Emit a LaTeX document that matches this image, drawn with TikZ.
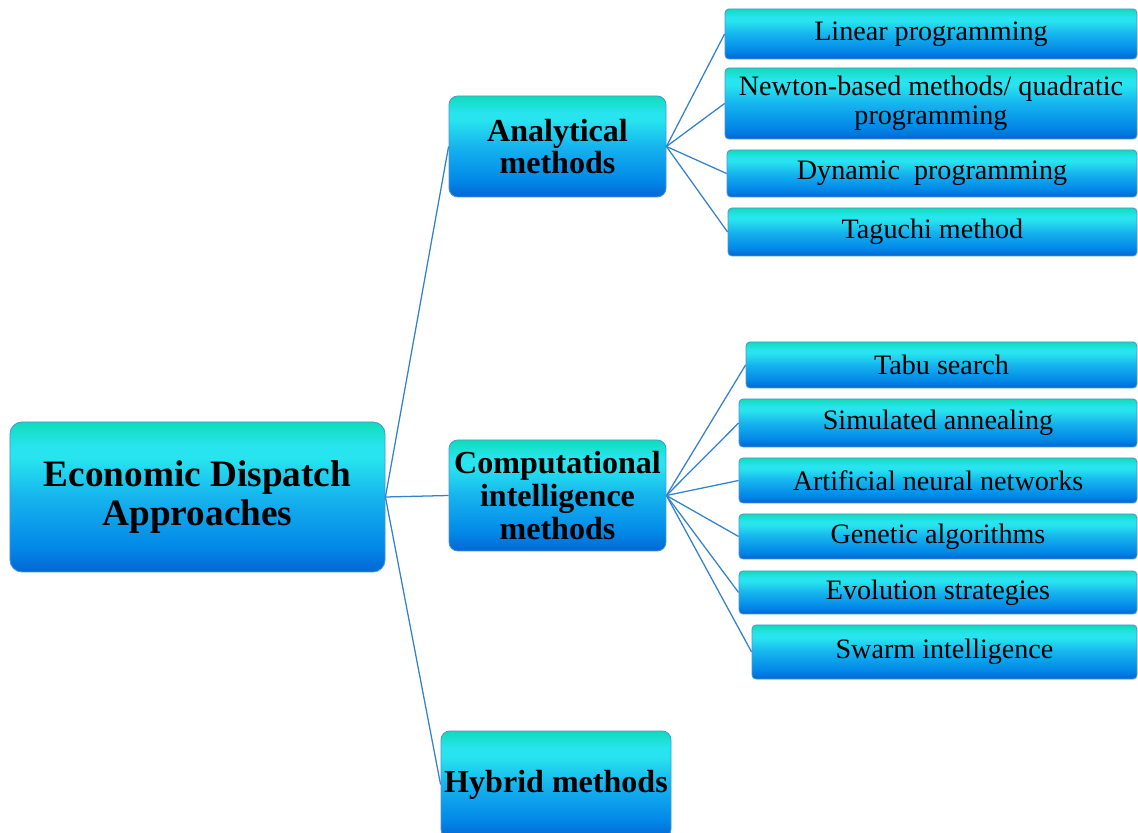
\documentclass[tikz,border=0pt]{standalone}
\usepackage{fontspec}
\setmainfont{Liberation Serif}
\usepackage{tikz}
\usetikzlibrary{positioning}
\definecolor{cTop}{RGB}{16,220,186}
\definecolor{cCyan}{RGB}{40,228,238}
\definecolor{cMid}{RGB}{22,180,238}
\definecolor{cDeep}{RGB}{2,135,232}
\definecolor{cBot}{RGB}{4,102,212}
\definecolor{cEdge}{RGB}{70,150,215}
\definecolor{cLink}{RGB}{50,130,205}
\pgfdeclareverticalshading{boxfade}{100bp}{color(0bp)=(cBot); color(25bp)=(cBot); color(33bp)=(cDeep); color(50bp)=(cMid); color(63bp)=(cCyan); color(67bp)=(cCyan); color(75bp)=(cTop); color(100bp)=(cTop)}
\tikzset{
    rootbox/.style ={rectangle, rounded corners=0.3cm, draw=cEdge, line width=0.6pt, shade, shading=boxfade, align=center, inner sep=0pt, font=\fontsize{26.5}{27.5}\selectfont\bfseries},
    groupbox/.style={rectangle, rounded corners=0.22cm, draw=cEdge, line width=0.6pt, shade, shading=boxfade, align=center, inner sep=0pt, font=\fontsize{22.8}{23.2}\selectfont\bfseries},
    leafbox/.style ={rectangle, rounded corners=0.1cm, draw=cEdge, line width=0.6pt, shade, shading=boxfade, align=center, inner sep=0pt, font=\fontsize{20}{20.5}\selectfont},
    link/.style    ={draw=cLink, line width=0.9pt},
}
\begin{document}
\begin{tikzpicture}
    \useasboundingbox (0,0) rectangle (28.45,20.8);
    \node[rootbox, minimum width=9.375cm, minimum height=3.75cm] (root) at (4.9375,8.375) {Economic Dispatch\\Approaches};
    \node[groupbox, minimum width=5.425cm, minimum height=2.525cm] (ana) at (13.9375,17.1375) {Analytical\\methods};
    \node[groupbox, minimum width=5.425cm, minimum height=2.775cm] (comp) at (13.9375,8.4125) {Computational\\intelligence\\methods};
    \node[groupbox, minimum width=5.75cm, minimum height=2.675cm] (hyb) at (13.9,1.1875) {Hybrid methods};
    \node[leafbox, minimum width=10.3cm, minimum height=1.25cm] (lin) at (23.275,19.95) {Linear programming};
    \node[leafbox, minimum width=10.3cm, minimum height=1.775cm] (newt) at (23.275,18.2125) {Newton-based methods/ quadratic\\programming};
    \node[leafbox, minimum width=10.25cm, minimum height=1.175cm] (dyn) at (23.3,16.4625) {Dynamic\ \ programming};
    \node[leafbox, minimum width=10.225cm, minimum height=1.2cm] (tag) at (23.3125,15.0) {Taguchi method};
    \node[leafbox, minimum width=9.775cm, minimum height=1.15cm] (tabu) at (23.5375,11.675) {Tabu search};
    \node[leafbox, minimum width=9.95cm, minimum height=1.2cm] (sim) at (23.45,10.225) {Simulated annealing};
    \node[leafbox, minimum width=9.95cm, minimum height=1.125cm] (ann) at (23.45,8.7875) {Artificial neural networks};
    \node[leafbox, minimum width=9.95cm, minimum height=1.125cm] (gen) at (23.45,7.3875) {Genetic algorithms};
    \node[leafbox, minimum width=9.95cm, minimum height=1.075cm] (evo) at (23.45,5.9875) {Evolution strategies};
    \node[leafbox, minimum width=9.625cm, minimum height=1.35cm] (swarm) at (23.6125,4.5) {Swarm intelligence};
    \draw[link] (root.east) -- (ana.west);
    \draw[link] (root.east) -- (comp.west);
    \draw[link] (root.east) -- (hyb.west);
    \draw[link] (ana.east) -- (lin.west);
    \draw[link] (ana.east) -- (newt.west);
    \draw[link] (ana.east) -- (dyn.west);
    \draw[link] (ana.east) -- (tag.west);
    \draw[link] (comp.east) -- (tabu.west);
    \draw[link] (comp.east) -- (sim.west);
    \draw[link] (comp.east) -- (ann.west);
    \draw[link] (comp.east) -- (gen.west);
    \draw[link] (comp.east) -- (evo.west);
    \draw[link] (comp.east) -- (swarm.west);
\end{tikzpicture}
\end{document}
